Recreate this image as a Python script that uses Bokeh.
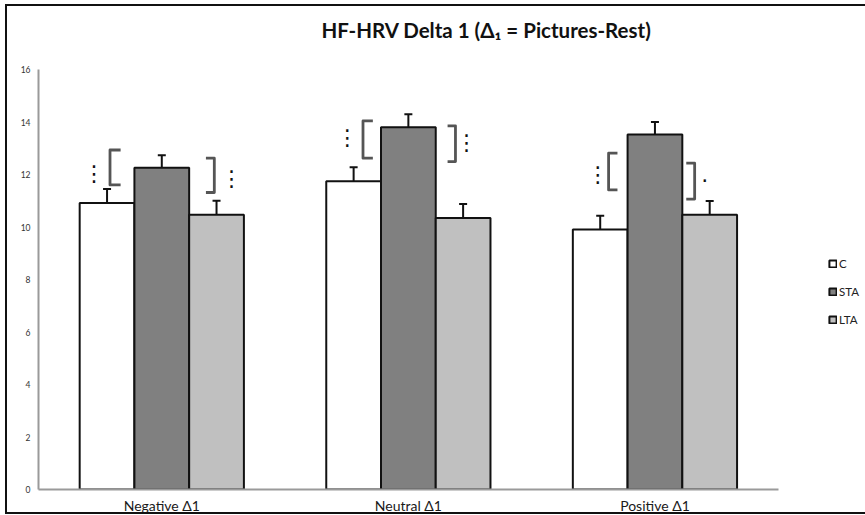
from bokeh.plotting import figure
from bokeh.models import Range1d, FixedTicker, Legend, LegendItem, Whisker, TeeHead, ColumnDataSource, Label
from bokeh.core.properties import value
from bokeh.embed import file_html
from bokeh.resources import INLINE

# ---------------- data ----------------
categories = ["Negative Δ1", "Neutral Δ1", "Positive Δ1"]
groups = ["C", "STA", "LTA"]
c_means = [10.92, 11.75, 9.91]
sta_means = [12.26, 13.81, 13.53]
lta_means = [10.47, 10.35, 10.47]
c_err = [0.53, 0.53, 0.52]
sta_err = [0.48, 0.49, 0.48]
lta_err = [0.54, 0.53, 0.53]
y_tick_values = [0, 2, 4, 6, 8, 10, 12, 14, 16]
title_text = "HF-HRV Delta 1 (Δ₁ = Pictures-Rest)"

# significance marks: left = C vs STA, right = STA vs LTA
left_marks = ["⋮", "⋮", "⋮"]
right_marks = ["⋮", "⋮", "·"]

# ---------------- layout / style ----------------
Y_AXIS_MAX = 16
Y_END = 18.41          # frame extends above the axis to hold the title
X_END = 3.362
BAR_W = 0.222
offsets = [-0.222, 0.0, 0.222]
fills = ["#ffffff", "#808080", "#c0c0c0"]
FONT = "Lato"
TITLE_X = 1.817        # title centre (data units)
TITLE_Y = 17.50        # title baseline (data units)

p = figure(width=858, height=506, x_range=Range1d(0, X_END), y_range=Range1d(0, Y_END),
           output_backend="svg", toolbar_location=None,
           min_border_left=31, min_border_right=0, min_border_top=0, min_border_bottom=25)
p.outline_line_color = None
p.xgrid.visible = False
p.ygrid.visible = False
p.background_fill_color = "white"
p.border_fill_color = "white"
p.styles = {"margin-left": "5px", "margin-top": "4px", "box-sizing": "content-box",
            "border-top": "2px solid #111", "border-left": "2px solid #111",
            "border-bottom": "2px solid #111"}

p.add_layout(Label(x=TITLE_X, y=TITLE_Y, text=title_text,
                   text_font=FONT, text_font_size="20.5px", text_font_style="bold",
                   text_color="#111111", text_align="center", text_baseline="alphabetic"))

# axes
p.yaxis.ticker = FixedTicker(ticks=y_tick_values)
p.yaxis.bounds = (0, Y_AXIS_MAX)
p.yaxis.major_label_text_font = FONT
p.yaxis.major_label_text_font_size = "8.5px"
p.yaxis.major_label_text_color = "#333333"
p.yaxis.major_tick_line_color = None
p.yaxis.major_tick_out = 0
p.yaxis.major_tick_in = 0
p.yaxis.minor_tick_line_color = None
p.yaxis.axis_line_color = "#9a9a9a"
p.yaxis.axis_line_width = 2
p.yaxis.major_label_standoff = 8

centers = [i + 0.5 for i in range(len(categories))]
p.xaxis.ticker = FixedTicker(ticks=centers)
p.xaxis.major_label_overrides = {c: lab for c, lab in zip(centers, categories)}
p.xaxis.bounds = (0, len(categories))
p.xaxis.major_label_text_font = FONT
p.xaxis.major_label_text_font_size = "14px"
p.xaxis.major_label_text_color = "#1a1a1a"
p.xaxis.major_tick_line_color = None
p.xaxis.major_tick_out = 0
p.xaxis.major_tick_in = 0
p.xaxis.minor_tick_line_color = None
p.xaxis.axis_line_color = "#9a9a9a"
p.xaxis.axis_line_width = 2
p.xaxis.major_label_standoff = 7

# bars + error bars
renderers = []
for k, (means, errs) in enumerate([(c_means, c_err), (sta_means, sta_err), (lta_means, lta_err)]):
    xs = [c + offsets[k] for c in centers]
    src = ColumnDataSource(dict(x=xs, top=means,
                                upper=[m + e for m, e in zip(means, errs)],
                                lower=[m - e for m, e in zip(means, errs)]))
    r = p.vbar(x="x", top="top", bottom=0, width=BAR_W, source=src,
               fill_color=fills[k], line_color="#111111", line_width=2)
    renderers.append(r)
    w = Whisker(base="x", upper="upper", lower="lower", source=src, line_width=2, line_color="#111111",
                upper_head=TeeHead(size=8, line_width=2, line_color="#111111"),
                lower_head=TeeHead(size=8, line_width=2, line_color="#111111"))
    p.add_layout(w)

# brackets (positions in data units, relative to group centre)
lb_v = [-0.210, -0.184, -0.188]
lb_arm = [-0.167, -0.144, -0.152]
lb_top = [12.94, 14.05, 12.82]
lb_bot = [11.61, 12.63, 11.42]
rb_v = [0.213, 0.191, 0.161]
rb_arm = [0.179, 0.159, 0.127]
rb_top = [12.63, 13.86, 12.44]
rb_bot = [11.32, 12.50, 11.07]
bxs, bys = [], []
for i, c in enumerate(centers):
    bxs.append([c + lb_arm[i], c + lb_v[i], c + lb_v[i], c + lb_arm[i]])
    bys.append([lb_top[i], lb_top[i], lb_bot[i], lb_bot[i]])
    bxs.append([c + rb_arm[i], c + rb_v[i], c + rb_v[i], c + rb_arm[i]])
    bys.append([rb_top[i], rb_top[i], rb_bot[i], rb_bot[i]])
p.multi_line(xs=bxs, ys=bys, line_color="#555555", line_width=2.8, line_join="round")

lm_x = [-0.275, -0.248, -0.232]
lm_y = [12.04, 13.42, 11.99]
rm_x = [0.283, 0.236, 0.202]
rm_y = [11.87, 13.23, 11.79]
p.text(x=[c + d for c, d in zip(centers, lm_x)] + [c + d for c, d in zip(centers, rm_x)],
       y=lm_y + rm_y, text=left_marks + right_marks,
       text_font=value("DejaVu Sans"), text_font_size="22px",
       text_align="center", text_baseline="middle", text_color="#111111")

legend = Legend(items=[LegendItem(label=g, renderers=[r]) for g, r in zip(groups, renderers)],
                location=(790, 163), glyph_width=9, glyph_height=9, label_height=9,
                label_text_font=FONT, label_text_font_size="11.5px", label_text_color="#222222",
                spacing=15, padding=0, margin=0, label_standoff=2,
                border_line_color=None, background_fill_alpha=0)
p.add_layout(legend)

open("out.html", "w").write(file_html(p, INLINE))
